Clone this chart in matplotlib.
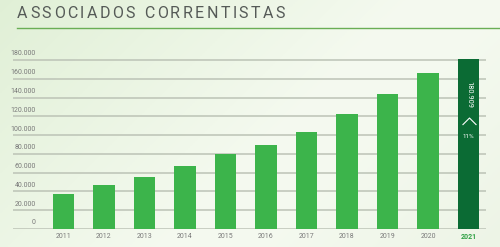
import numpy as np
import matplotlib.pyplot as plt
from matplotlib.path import Path
from matplotlib.lines import Line2D
from matplotlib.transforms import offset_copy, blended_transform_factory

# -----------------------------
# DATI
# -----------------------------
anni = ['2011', '2012', '2013', '2014', '2015', '2016', '2017', '2018', '2019', '2020', '2021']
associados = [37500, 46500, 55300, 67000, 80000, 89700, 103000, 122000, 143500, 166000, 180909]
ticks_y = [0, 20000, 40000, 60000, 80000, 100000, 120000, 140000, 160000, 180000]
tick_labels = ['0', '20.000', '40.000', '60.000', '80.000', '100.000', '120.000', '140.000', '160.000', '180.000']
titolo = 'ASSOCIADOS CORRENTISTAS'
valore_finale = '180.909'
crescita = '11%'

VERDE = '#3cb44b'
VERDE_SCURO = '#0b6b34'
GRIGIO = '#7a7a7a'

plt.rcParams['font.family'] = ['Roboto', 'DejaVu Sans']

fig = plt.figure(figsize=(5, 2.47), dpi=100)

# -----------------------------
# SFONDO SFUMATO
# -----------------------------
bg = fig.add_axes([0, 0, 1, 1], zorder=-5)
xx, yy = np.meshgrid(np.linspace(0, 1, 200), np.linspace(0, 1, 100))
t = np.clip(0.6 * xx + 0.3 * yy, 0, 1)
c_a = np.array([0.88, 0.94, 0.84])
c_b = np.array([0.96, 0.98, 0.94])
c_c = np.array([0.92, 0.95, 0.89])
w = np.clip(t * 2.0, 0, 1)[..., None]
img = c_a * (1 - w) + c_b * w
w2 = np.clip((t - 0.6) / 0.4, 0, 1)[..., None]
img = img * (1 - w2) + c_c * w2
bg.imshow(img, aspect='auto', extent=[0, 1, 0, 1], origin='upper')
bg.axis('off')

# -----------------------------
# GRAFICO
# -----------------------------
ax = fig.add_axes([0.026, 0.0729, 0.946, 0.692])
ax.set_facecolor('none')
x = np.arange(len(anni))
colori = [VERDE] * (len(anni) - 1) + [VERDE_SCURO]
ax.bar(x, associados, width=0.54, color=colori, zorder=3)

ax.set_xlim(-1.247, 10.432)
ax.set_ylim(0, 182000)
ax.set_yticks(ticks_y)
ax.grid(axis='y', color='#bcc3b6', linewidth=1.1, zorder=1)
ax.set_axisbelow(True)
ax.tick_params(axis='y', left=False, labelleft=False)
for s in ax.spines.values():
    s.set_visible(False)

ax.set_xticks(x)
ax.set_xticklabels(anni, fontsize=5, color=GRIGIO)
ax.tick_params(axis='x', length=0, pad=3)
ultima = ax.get_xticklabels()[-1]
ultima.set_color('#2ea043')
ultima.set_fontweight('bold')

# etichette asse y sopra le griglie
trans = blended_transform_factory(ax.transAxes, ax.transData)
for v, lab in zip(ticks_y, tick_labels):
    ax.text(0.0486, v, lab, transform=offset_copy(trans, fig=fig, y=2.5, units='dots'),
            ha='right', va='bottom', fontsize=5, color=GRIGIO)

# testo dentro la barra 2021
top = associados[-1]
ax.text(x[-1], top, valore_finale, rotation=-90, color='white', fontsize=5.4,
        ha='center', va='center',
        transform=offset_copy(ax.transData, fig=fig, y=-35, units='dots'))
chevron = Path([(-1, -0.5), (0, 0.5), (1, -0.5)], [Path.MOVETO, Path.LINETO, Path.LINETO])
ax.plot([x[-1]], [top], marker=chevron, ms=10, mfc='none', mec='white', mew=0.8,
        transform=offset_copy(ax.transData, fig=fig, y=-62, units='dots'), zorder=5)
ax.text(x[-1], top, crescita, color='white', fontsize=4.5,
        ha='center', va='center',
        transform=offset_copy(ax.transData, fig=fig, y=-77, units='dots'))

# -----------------------------
# TITOLO (spaziatura lettere)
# -----------------------------
renderer = fig.canvas.get_renderer()
larghezze = []
pezzi = []
for ch in titolo:
    tt = fig.text(0, 0, ch if ch != ' ' else 'I', fontsize=11.5, color='#555a57')
    larghezze.append(tt.get_window_extent(renderer).width if ch != ' ' else 4.0)
    pezzi.append(tt)
spazio = (268 - sum(larghezze)) / (len(titolo) - 1)
pos = 17.0
for ch, tt, lw in zip(titolo, pezzi, larghezze):
    if ch == ' ':
        tt.remove()
    else:
        tt.set_position((pos / 500, 1 - 13 / 247))
        tt.set_va('center')
    pos += lw + spazio

fig.add_artist(Line2D([17 / 500, 1], [1 - 28 / 247, 1 - 28 / 247], color='#6aae55', linewidth=1.0))

fig.savefig('out.png', dpi=100)
